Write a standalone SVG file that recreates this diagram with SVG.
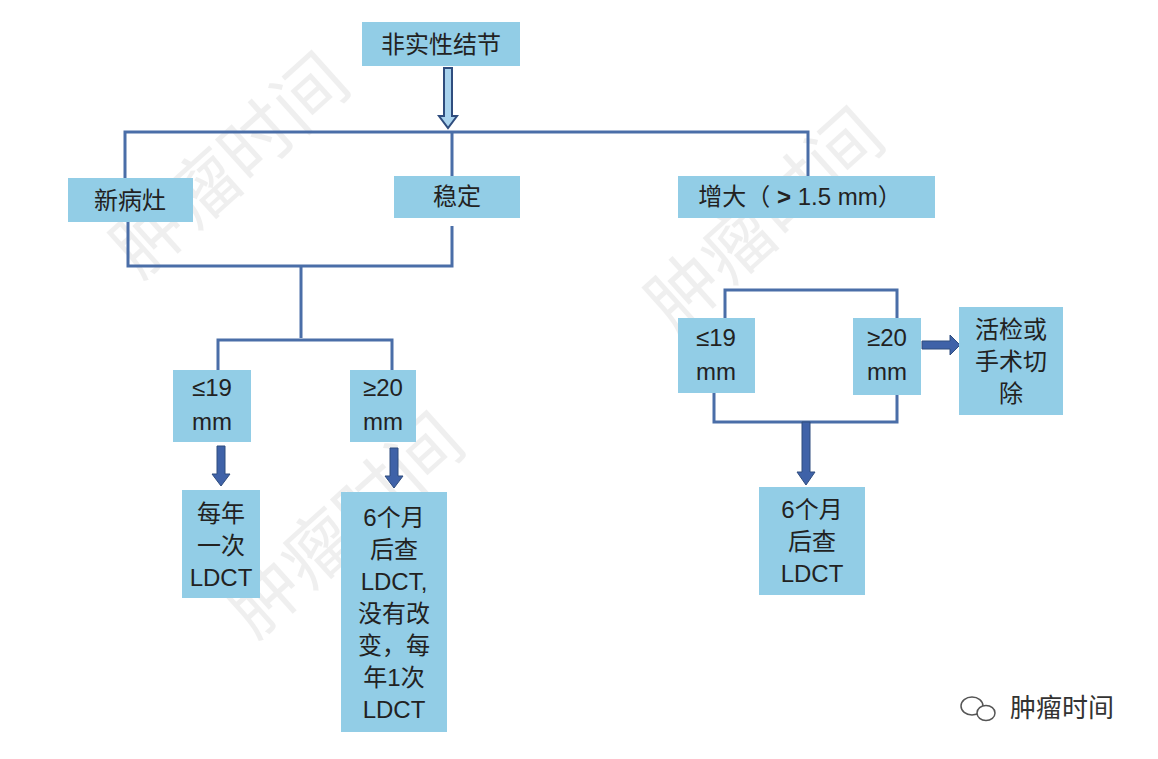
<svg xmlns="http://www.w3.org/2000/svg" width="1158" height="759" viewBox="0 0 1158 759">
<style>
.b{fill:#92CDE6}
.t{font-family:"Liberation Sans","Noto Sans CJK SC",sans-serif;font-size:24px;fill:#222;text-anchor:middle}
.l{stroke:#4A6EA8;stroke-width:3;fill:none}
.w{font-family:"Noto Sans CJK SC",sans-serif;font-size:72px;fill:#000;opacity:0.06}
</style>
<rect width="1158" height="759" fill="#fff"/>
<g>
<text class="w" transform="translate(140,280) rotate(-42)">肿瘤时间</text>
<text class="w" transform="translate(255,640) rotate(-42)">肿瘤时间</text>
<text class="w" transform="translate(675,335) rotate(-42)">肿瘤时间</text>
</g>
<g id="connectors">
<path class="l" d="M125,178V132H808V178M452,132V176"/>
<path d="M444,68h8v48h5l-9,12l-9,-12h5z" fill="#A9D3EE" stroke="#2F4D7E" stroke-width="2"/>
<path class="l" d="M128,222V266H452V226M301,266V338M218,370V340H392V370"/>
<path class="l" d="M725,318V290H897V318M714,393V422H897V395"/>
<path d="M217,446h8v28h5l-9,12l-9,-12h5z" fill="#3F62A8" stroke="#2F4D7E"/>
<path d="M390,448h8v28h5l-9,12l-9,-12h5z" fill="#3F62A8" stroke="#2F4D7E"/>
<path d="M802,422h8v50h5l-9,13l-9,-13h5z" fill="#3F62A8" stroke="#2F4D7E"/>
<path d="M922,341h28v-6l10,10l-10,10v-6h-28z" fill="#3F62A8" stroke="#2F4D7E"/>
</g>
<g id="n1"><rect class="b" x="362" y="22" width="158" height="44"/><text class="t" x="441" y="53">非实性结节</text></g>
<g id="n2"><rect class="b" x="68" y="178" width="125" height="44"/><text class="t" x="130" y="209">新病灶</text></g>
<g id="n3"><rect class="b" x="394" y="176" width="126" height="42"/><text class="t" x="457" y="205">稳定</text></g>
<g id="n4"><rect class="b" x="678" y="176" width="257" height="42"/><text class="t" x="800" y="205">增大（ <tspan font-weight="bold">&gt;</tspan> 1.5 mm）</text></g>
<g id="n5"><rect class="b" x="173" y="370" width="78" height="72"/><text class="t" x="212" y="396">≤19</text><text class="t" x="212" y="430">mm</text></g>
<g id="n6"><rect class="b" x="350" y="370" width="66" height="72"/><text class="t" x="383" y="396">≥20</text><text class="t" x="383" y="430">mm</text></g>
<g id="n7"><rect class="b" x="182" y="490" width="78" height="108"/><text class="t" x="221" y="522">每年</text><text class="t" x="221" y="554">一次</text><text class="t" x="221" y="586">LDCT</text></g>
<g id="n8"><rect class="b" x="341" y="492" width="106" height="240"/>
<text class="t" x="394" y="526">6个月</text><text class="t" x="394" y="558">后查</text><text class="t" x="394" y="590">LDCT,</text><text class="t" x="394" y="622">没有改</text><text class="t" x="394" y="654">变，每</text><text class="t" x="394" y="686">年1次</text><text class="t" x="394" y="718">LDCT</text></g>
<g id="n9"><rect class="b" x="678" y="318" width="77" height="75"/><text class="t" x="716" y="346">≤19</text><text class="t" x="716" y="380">mm</text></g>
<g id="n10"><rect class="b" x="853" y="318" width="68" height="77"/><text class="t" x="887" y="346">≥20</text><text class="t" x="887" y="380">mm</text></g>
<g id="n11"><rect class="b" x="959" y="307" width="104" height="108"/><text class="t" x="1011" y="338">活检或</text><text class="t" x="1011" y="370">手术切</text><text class="t" x="1011" y="402">除</text></g>
<g id="n12"><rect class="b" x="759" y="487" width="106" height="108"/><text class="t" x="812" y="518">6个月</text><text class="t" x="812" y="550">后查</text><text class="t" x="812" y="582">LDCT</text></g>
<g id="logo">
<ellipse cx="972" cy="706" rx="11" ry="9" fill="none" stroke="#555" stroke-width="1.5"/>
<ellipse cx="986" cy="713" rx="9" ry="7.5" fill="#fff" stroke="#555" stroke-width="1.5"/>
<text x="1010" y="717" font-family="Noto Sans CJK SC,sans-serif" font-size="26" fill="#333">肿瘤时间</text>
</g>
</svg>
